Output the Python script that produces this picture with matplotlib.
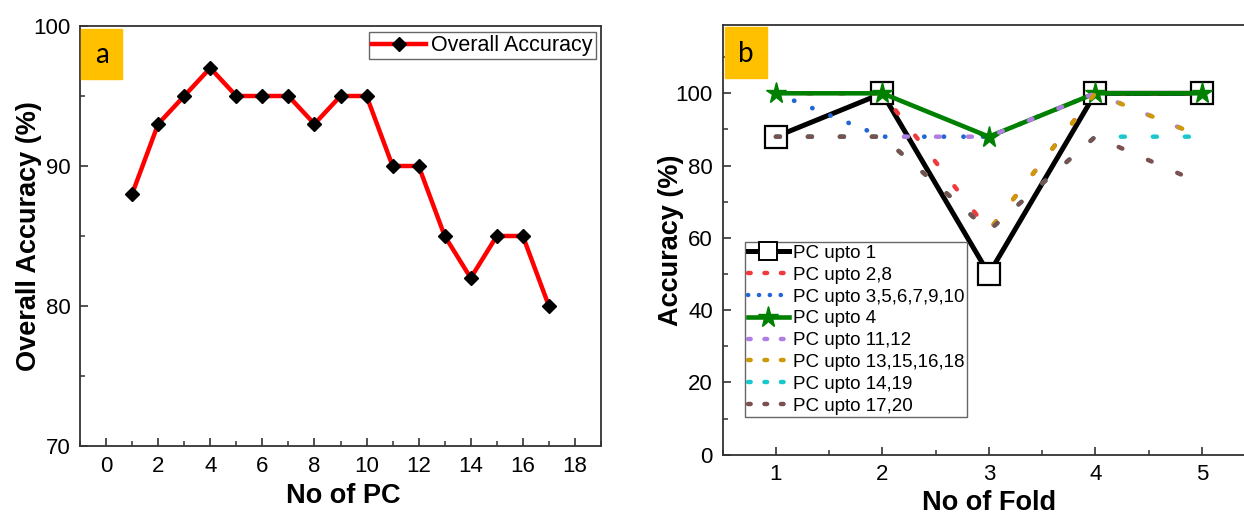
import matplotlib
matplotlib.use('Agg')
import matplotlib.pyplot as plt
from matplotlib.lines import Line2D
from matplotlib.patches import Rectangle
from matplotlib.ticker import MultipleLocator

plt.rcParams['font.family'] = ['Liberation Sans', 'DejaVu Sans']

# overall accuracy for increasing number of principal components
n_pc = [1, 2, 3, 4, 5, 6, 7, 8, 9, 10, 11, 12, 13, 14, 15, 16, 17]
overall_acc = [88, 93, 95, 97, 95, 95, 95, 93, 95, 95, 90, 90, 85, 82, 85, 85, 80]

# accuracy per fold, grouped by number of PCs
folds = [1, 2, 3, 4, 5]
acc_pc1 = [88, 100, 50, 100, 100]
acc_pc2_8 = [100, 100, 62, 100, 100]
acc_pc3_10 = [100, 88, 88, 100, 100]
acc_pc4 = [100, 100, 88, 100, 100]
acc_pc11_12 = [88, 88, 88, 100, 88]
acc_pc13_18 = [88, 88, 62, 100, 88]
acc_pc14_19 = [88, 88, 62, 88, 88]
acc_pc17_20 = [88, 88, 62, 88, 75]
fold_labels = ['PC upto 1', 'PC upto 2,8', 'PC upto 3,5,6,7,9,10', 'PC upto 4',
               'PC upto 11,12', 'PC upto 13,15,16,18', 'PC upto 14,19', 'PC upto 17,20']

W, H = 1244, 514
fig = plt.figure(figsize=(W / 100, H / 100), dpi=100)

SPINE = '#333333'
ORANGE = '#FFC000'


def style_axis(ax):
    for s in ax.spines.values():
        s.set_linewidth(1.3)
        s.set_color(SPINE)
    ax.tick_params(which='both', direction='in', top=False, right=False,
                   color=SPINE, labelsize=16, labelcolor='black')
    ax.tick_params(which='major', length=6, width=1.2, pad=7)
    ax.tick_params(which='minor', length=3.5, width=1.1)


def panel_tag(letter, x0, y0, x1, y1):
    fig.patches.append(Rectangle((x0 / W, 1 - y1 / H), (x1 - x0) / W, (y1 - y0) / H,
                                 transform=fig.transFigure, color=ORANGE, zorder=5))
    fig.text((x0 + x1) / 2 / W, 1 - ((y0 + y1) / 2 + 1) / H, letter, ha='center', va='center',
             fontsize=20, family=['Lato', 'DejaVu Sans'], zorder=6)


# ---- panel a ----
ax1 = fig.add_axes([80 / W, 1 - 446 / H, 521 / W, 420 / H])
ax1.plot(n_pc, overall_acc, color='#FF0000', lw=3.2, marker='D', ms=6.8,
         mfc='black', mec='black', label='Overall Accuracy')
ax1.set_xlim(-1, 19)
ax1.set_ylim(70, 100)
ax1.set_xticks(range(0, 19, 2))
ax1.xaxis.set_minor_locator(MultipleLocator(1))
ax1.set_yticks([70, 80, 90, 100])
ax1.yaxis.set_minor_locator(MultipleLocator(5))
style_axis(ax1)
ax1.set_xlabel('No of PC', fontsize=19.5, fontweight='bold')
ax1.set_ylabel('Overall Accuracy (%)', fontsize=19.5, fontweight='bold')
ax1.xaxis.set_label_coords(0.505, -0.088)
ax1.yaxis.set_label_coords(-0.072, 0.5)
leg1 = ax1.legend(loc='upper right', bbox_to_anchor=(596 / W, 1 - 32 / H),
                  bbox_transform=fig.transFigure, fontsize=15.5, frameon=True,
                  fancybox=False, edgecolor='#666666', framealpha=1, borderpad=0.15,
                  handlelength=2.5, handletextpad=0.25, borderaxespad=0)
leg1.get_frame().set_linewidth(1.0)
panel_tag('a', 81, 29, 122, 79)

# ---- panel b ----
ax2 = fig.add_axes([722.7 / W, 1 - 454.7 / H, (1255 - 722.7) / W, 429.7 / H])
dot = dict(lw=3.2, dashes=(0.9, 6.3), dash_capstyle='round')
ax2.plot(folds, acc_pc1, color='black', lw=3.6, marker='s', ms=16,
         mfc='white', mec='black', mew=1.6, zorder=2)
ax2.plot(folds, acc_pc2_8, color='#EF3B3E', zorder=3, **dot)
ax2.plot(folds, acc_pc3_10, color='#2166D6', lw=3.4, dashes=(0.05, 4.1),
         dash_capstyle='round', zorder=3)
ax2.plot(folds, acc_pc4, color='#008000', lw=3.3, marker='*', ms=15.5,
         mfc='#008000', mec='#008000', zorder=4)
ax2.plot(folds, acc_pc11_12, color='#B07EE0', zorder=5, **dot)
ax2.plot(folds, acc_pc13_18, color='#CC9A08', zorder=5, **dot)
ax2.plot(folds, acc_pc14_19, color='#18C8CC', zorder=5, **dot)
ax2.plot(folds, acc_pc17_20, color='#7B5050', zorder=5, **dot)
ax2.set_xlim(0.5, 5.5)
ax2.set_ylim(0, 118.9)
ax2.set_xticks(folds)
ax2.xaxis.set_minor_locator(MultipleLocator(0.5))
ax2.set_yticks(range(0, 101, 20))
ax2.yaxis.set_minor_locator(MultipleLocator(10))
style_axis(ax2)
ax2.spines['right'].set_visible(False)
ax2.set_xlabel('No of Fold', fontsize=19.5, fontweight='bold')
ax2.set_ylabel('Accuracy (%)', fontsize=19.5, fontweight='bold')
ax2.xaxis.set_label_coords((989.3 - 722.7) / 532.3, -0.083)
ax2.yaxis.set_label_coords(-0.072, 0.5)

# legend uses denser dot patterns than the lines themselves
ldot = dict(lw=3.2, dashes=(0.6, 3.1), dash_capstyle='round')
handles = [
    Line2D([], [], color='black', lw=3.6, marker='s', ms=13.5, mfc='white', mec='black', mew=1.4),
    Line2D([], [], color='#EF3B3E', **ldot),
    Line2D([], [], color='#2166D6', lw=3.2, dashes=(0.05, 2.4), dash_capstyle='round'),
    Line2D([], [], color='#008000', lw=3.3, marker='*', ms=15.5, mfc='#008000', mec='#008000'),
    Line2D([], [], color='#B07EE0', **ldot),
    Line2D([], [], color='#CC9A08', **ldot),
    Line2D([], [], color='#18C8CC', **ldot),
    Line2D([], [], color='#7B5050', **ldot),
]
leg2 = ax2.legend(handles, fold_labels, loc='upper left', bbox_to_anchor=(745 / W, 1 - 242 / H),
                  bbox_transform=fig.transFigure, fontsize=13.5, frameon=True,
                  fancybox=False, edgecolor='#666666', framealpha=1, borderpad=0.15,
                  labelspacing=0.25, handlelength=2.2, handletextpad=0.2, borderaxespad=0)
leg2.get_frame().set_linewidth(1.0)
panel_tag('b', 725, 27, 767, 78)

fig.savefig('out.png', dpi=100)
